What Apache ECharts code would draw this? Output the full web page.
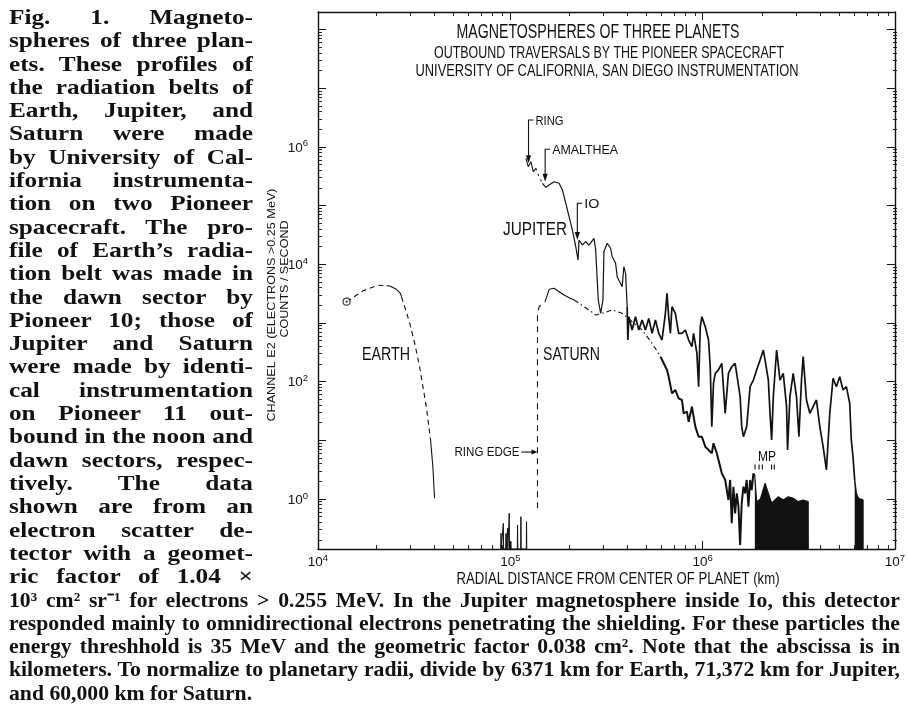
<!DOCTYPE html>
<html><head><meta charset="utf-8">
<script src="https://cdn.jsdelivr.net/npm/echarts@6/dist/echarts.min.js"></script>
<style>
html,body{margin:0;padding:0;background:#fff;}
#chart{position:absolute;left:0;top:0;width:908px;height:725px;}
.cap{position:absolute;font-family:"Liberation Serif","Times New Roman",serif;font-weight:bold;line-height:23.3px;color:#111;transform-origin:0 0;}
.cap div{text-align:justify;text-align-last:justify;white-space:nowrap;height:23.3px;}
.cap div.last{text-align-last:left;}
</style></head><body>
<div id="chart"></div>
<div id="capLeft" class="cap"></div>
<div id="capBottom" class="cap"></div>
<script>
// ---------- caption text ----------
const captionLeft = [
"Fig. 1. Magneto-","spheres of three plan-","ets. These profiles of","the radiation belts of",
"Earth, Jupiter, and","Saturn were made","by University of Cal-","ifornia instrumenta-",
"tion on two Pioneer","spacecraft. The pro-","file of Earth\u2019s radia-","tion belt was made in",
"the dawn sector by","Pioneer 10; those of","Jupiter and Saturn","were made by identi-",
"cal instrumentation","on Pioneer 11 out-","bound in the noon and","dawn sectors, respec-",
"tively. The data","shown are from an","electron scatter de-","tector with a geomet-",
"ric factor of 1.04 \u00d7"];
const captionBottom = [
"10\u00b3 cm\u00b2 sr\u207b\u00b9 for electrons > 0.255 MeV. In the Jupiter magnetosphere inside Io, this detector",
"responded mainly to omnidirectional electrons penetrating the shielding. For these particles the",
"energy threshhold is 35 MeV and the geometric factor 0.038 cm\u00b2. Note that the abscissa is in",
"kilometers. To normalize to planetary radii, divide by 6371 km for Earth, 71,372 km for Jupiter,",
"and 60,000 km for Saturn."];

// ---------- chart text ----------
const titleLines = ["MAGNETOSPHERES OF THREE PLANETS","OUTBOUND TRAVERSALS BY THE PIONEER SPACECRAFT","UNIVERSITY OF CALIFORNIA, SAN DIEGO INSTRUMENTATION"];
const xAxisTitle = "RADIAL DISTANCE FROM CENTER OF PLANET (km)";
const yAxisTitle1 = "CHANNEL E2 (ELECTRONS >0.25 MeV)";
const yAxisTitle2 = "COUNTS / SECOND";

// ---------- tick values ----------
const xMajorTicks = [1e4, 1e5, 1e6, 1e7];
const yMajorTicks = [1e0, 1e1, 1e2, 1e3, 1e4, 1e5, 1e6, 1e7, 1e8];
const minorMultipliers = [2, 3, 4, 5, 6, 7, 8, 9];

// ---------- data (x = km, y = counts/s) ----------
const earthDashA = [[14080,2297],[17170,3537],[20530,4374],[22690,4305]];
const earthSolidA = [[22690,4305],[23610,4256],[25570,3735],[26830,3192],[27150,2793]];
const earthDashB = [[27150,2793],[28240,1888],[29980,996],[31810,455],[33770,179],[35130,81.9],[36580,37.4],[37730,17.1],[38500,10.1]];
const earthSolidB = [[38500,10.1],[39570,3.55],[40380,1.03]];
const earthStart = [[14080,2297]];

const jupiterRing = [[120600,6.37e5],[124000,4.58e5],[128100,5.57e5],[131600,3.77e5],[135900,4.30e5]];
const jupiterGap = [[135900,4.30e5],[141000,3.1e5],[147000,2.39e5]];
const jupiterInner = [[147000,2.39e5],[153100,2.04e5],[159300,2.23e5],[169000,2.54e5],[179500,2.39e5],[186600,1.84e5],[194400,1.09e5],[202200,6.44e4],[210300,3.83e4],[219000,1.99e4],[225100,1.18e4],[227800,2.58e4],[236900,2.12e4],[246700,2.42e4],[256600,2.12e4],[272400,2.76e4],[278000,1.75e4],[286800,2455],[295100,1458],[303300,2455],[306900,1.63e4],[319200,2.27e4],[332500,1.87e4],[338900,1.34e4],[352900,1.04e4],[359700,6120],[381800,4140],[389600,9060],[397700,7000],[405400,1888]];
const jupiterOuter = [[405400,1888],[408700,511],[413700,1276],[430200,757],[448000,1276],[465900,757],[484800,1120],[504800,757],[525100,1197],[546200,665],[568700,1120],[591600,665],[615400,511],[640800,1458],[653100,3190],[666500,1276],[680100,665],[693300,1888],[722000,1458],[751000,665],[781000,665],[813600,757],[846400,511],[880400,393],[898400,665],[934500,303],[953500,81.9],[972900,861],[991800,1276],[1.033e6,861],[1.074e6,511],[1.096e6,179],[1.117e6,17.1],[1.140e6,93.5],[1.164e6,138],[1.210e6,158],[1.259e6,205],[1.311e6,28.8],[1.363e6,138],[1.418e6,179],[1.477e6,205],[1.568e6,55.3],[1.598e6,17.1],[1.631e6,11.5],[1.696e6,17.1],[1.767e6,81.9],[1.838e6,106],[1.911e6,158],[1.991e6,233],[2.071e6,345],[2.128e6,205],[2.198e6,106],[2.243e6,28.8],[2.287e6,10.1],[2.333e6,55.3],[2.427e6,345],[2.527e6,106],[2.628e6,138],[2.734e6,37.4],[2.767e6,6.84],[2.847e6,55.3],[2.961e6,138],[3.080e6,55.3],[3.170e6,11.5],[3.269e6,106],[3.336e6,266],[3.470e6,48.6],[3.614e6,28.8],[3.759e6,37.4],[3.910e6,48.6],[4.072e6,17.1],[4.236e6,7.78],[4.406e6,3.12],[4.588e6,28.8],[4.772e6,114],[4.964e6,81.9],[5.169e6,121],[5.377e6,71.9],[5.593e6,81.9],[5.825e6,42.7],[5.937e6,10.1],[6.058e6,5.26],[6.182e6,2.11]];
const jupiterEnd = [[6.182e6,2.11],[6.302e6,1.25],[6.40e6,1.09],[6.55e6,1.0],[6.70e6,0.96],[6.828e6,0.96],[6.83e6,0.1406]];

const saturnEdge = [[138500,0.695],[138500,1457],[141200,1888],[151800,2297]];
const saturnSolidA = [[151800,2297],[159300,3735],[169000,3882],[179500,3404],[190500,2985],[202200,2686],[214600,2455]];
const saturnDashDot = [[214600,2455],[227800,2157],[256600,1660],[278000,1364],[300800,1457],[338800,1660],[381800,1457],[430200,1047],[484800,757],[546200,449],[603800,266]];
const saturnSolidB = [[603800,266],[628100,205],[653100,158],[666500,121],[693300,63],[722000,71.9],[751000,51.7],[781000,48.6],[797300,28.8],[829300,30.7],[846400,20.7],[880400,37.4],[916800,17.1],[953500,11.5],[991800,11.5],[1.033e6,7.78],[1.074e6,6.84],[1.117e6,6.01],[1.140e6,8.89],[1.186e6,6.01],[1.259e6,2.74],[1.311e6,2.11],[1.363e6,0.96],[1.391e6,2.11],[1.418e6,0.385],[1.447e6,1.62],[1.477e6,0.57],[1.506e6,1.25],[1.537e6,0.74],[1.568e6,0.165],[1.598e6,0.845],[1.631e6,1.62],[1.664e6,1.25],[1.696e6,2.11],[1.732e6,0.74],[1.767e6,2.11],[1.801e6,1.42],[1.838e6,2.74],[1.870e6,2.4]];
const saturnMP = [[1.870e6,2.4],[1.91e6,0.9],[2.0e6,1.0],[2.113e6,1.85],[2.198e6,1.25],[2.287e6,0.845],[2.476e6,1.09],[2.628e6,0.96],[2.790e6,1.09],[2.961e6,1.03],[3.144e6,0.9],[3.336e6,0.96],[3.541e6,0.9],[3.545e6,0.1406]];
const saturnRingSpikes = [[89200,0.1406],[89500,0.26],[89800,0.1406],[91800,0.1406],[92000,0.385],[92300,0.1406],[94700,0.1406],[95000,0.26],[95300,0.1406],[96500,0.1406],[96800,0.317],[97100,0.1406],[98500,0.1406],[98800,0.57],[99100,0.1406],[100500,0.1406],[100800,0.187],[101100,0.1406],[108800,0.1406],[109100,0.36],[109400,0.1406],[113300,0.1406],[113600,0.5],[113900,0.1406],[121200,0.1406],[121500,0.41],[121800,0.1406]];

// annotation anchors in data space
const arrowNotes = [
  {label:"RING", x:124400, yTop:2.86e6, yTip:5.24e5, w:28},
  {label:"AMALTHEA", x:151800, yTop:9.06e5, yTip:2.54e5, w:66},
  {label:"IO", x:223200, yTop:1.09e5, yTip:2.58e4, w:15}
];
const ringEdgeNote = {label:"RING EDGE", x:138500, y:6.3};
const mpMarks = [1.875e6,1.966e6,2.046e6,2.284e6,2.36e6];
const mpMarkY = 3.5;

// ---------- helpers ----------
const mctx = document.createElement('canvas').getContext('2d');
function layoutCap(id, lines, left, top, width, fontSize){
  const el = document.getElementById(id);
  mctx.font = 'bold ' + fontSize + 'px "Liberation Serif", "Times New Roman", serif';
  let scale = Infinity;
  lines.forEach((t,i)=>{
    if (id==='capBottom' && i===lines.length-1) return;
    scale = Math.min(scale, width / mctx.measureText(t).width);
  });
  scale *= 0.995;
  el.style.left = left+'px'; el.style.top = top+'px';
  el.style.fontSize = fontSize+'px';
  el.style.width = (width/scale)+'px';
  el.style.transform = 'scaleX('+scale+')';
  lines.forEach((t,i)=>{const d=document.createElement('div');d.textContent=t;if(i===lines.length-1 && id==='capBottom')d.className='last';el.appendChild(d);});
}
layoutCap('capLeft', captionLeft, 9, 6, 244, 21);
layoutCap('capBottom', captionBottom, 9, 588.5, 891, 21);

function minorTicks(lo, hi){
  const out = [];
  for (let d = Math.floor(Math.log10(lo)); d <= Math.ceil(Math.log10(hi)); d++) {
    minorMultipliers.forEach(m => { const v = m * Math.pow(10, d); if (v > lo && v < hi) out.push(v); });
  }
  return out;
}

// ---------- chart ----------
const INK = '#111';
const FONT = '"Liberation Sans", Arial, sans-serif';
const YMIN = 0.1406, YMAX = 1.98e8, XMIN = 1e4, XMAX = 1e7;
const chart = echarts.init(document.getElementById('chart'), null, {renderer:'canvas', width:908, height:725});

function powLabel(lo, hi, evenOnly){
  return function(v){
    const e = Math.log10(v), r = Math.round(e);
    if (Math.abs(e-r) > 1e-6) return '';
    if (r < lo || r > hi) return '';
    if (evenOnly && r % 2 !== 0) return '';
    return '{b|10}{s|' + r + '}';
  };
}
const rich = {
  b:{fontSize:13.5, fontFamily:FONT, color:INK, verticalAlign:'bottom', lineHeight:16},
  s:{fontSize:9.5, fontFamily:FONT, color:INK, verticalAlign:'top', lineHeight:11, padding:[0,0,8,0]}
};
function axis(extra){
  return Object.assign({
    type:'log', logBase:10,
    axisLine:{show:true, lineStyle:{color:INK, width:1.4}},
    axisTick:{show:true, inside:true, length:8, lineStyle:{color:INK, width:1}},
    minorTick:{show:false}, splitLine:{show:false}, minorSplitLine:{show:false}
  }, extra);
}
function tickAxis(extra, values){
  return Object.assign({
    type:'log', logBase:10,
    axisLine:{show:false}, axisLabel:{show:false}, splitLine:{show:false},
    axisTick:{show:true, inside:true, length:4, customValues:values, lineStyle:{color:INK, width:0.9}}
  }, extra);
}
function line(data, width, type, extra){
  return Object.assign({type:'line', data, symbol:'none', silent:true, animation:false,
    xAxisIndex:0, yAxisIndex:0,
    lineStyle:{color:INK, width:width, type:type||'solid'}, z:3}, extra||{});
}
const xMinor = minorTicks(XMIN, XMAX), yMinor = minorTicks(YMIN, YMAX);
const yMajorIn = yMajorTicks.filter(v => v > YMIN && v < YMAX);

const option = {
  animation:false,
  backgroundColor:'#fff',
  grid:[
    {left:318, right:11, top:12, bottom:176, containLabel:false},
    {left:318, right:11, top:12, bottom:176, containLabel:false}
  ],
  xAxis:[
    axis({gridIndex:0, min:XMIN, max:XMAX, position:'bottom', axisTick:{show:true, inside:true, length:8, customValues:xMajorTicks, lineStyle:{color:INK, width:1}}, axisLabel:{formatter:powLabel(4,7,false), rich, margin:4}}),
    axis({gridIndex:0, min:XMIN, max:XMAX, position:'top', axisTick:{show:true, inside:true, length:8, customValues:xMajorTicks, lineStyle:{color:INK, width:1}}, axisLabel:{show:false}}),
    tickAxis({gridIndex:1, min:XMIN, max:XMAX, position:'bottom'}, xMinor),
    tickAxis({gridIndex:1, min:XMIN, max:XMAX, position:'top'}, xMinor)
  ],
  yAxis:[
    axis({gridIndex:0, min:YMIN, max:YMAX, position:'left', axisTick:{show:true, inside:true, length:8, customValues:yMajorIn, lineStyle:{color:INK, width:1}}, axisLabel:{formatter:powLabel(0,6,true), rich, margin:10}}),
    axis({gridIndex:0, min:YMIN, max:YMAX, position:'right', axisTick:{show:true, inside:true, length:8, customValues:yMajorIn, lineStyle:{color:INK, width:1}}, axisLabel:{show:false}}),
    tickAxis({gridIndex:1, min:YMIN, max:YMAX, position:'left'}, yMinor),
    tickAxis({gridIndex:1, min:YMIN, max:YMAX, position:'right'}, yMinor)
  ],
  series:[
    line(earthDashA, 1.1, [5,4]),
    line(earthSolidA, 1.1),
    line(earthDashB, 1.1, [5,4]),
    line(earthSolidB, 1.1),
    {type:'scatter', data:earthStart, symbol:'circle', symbolSize:7, silent:true, itemStyle:{color:'#fff', borderColor:INK, borderWidth:1.2}, z:4},
    {type:'scatter', data:earthStart, symbol:'circle', symbolSize:2.2, silent:true, itemStyle:{color:INK}, z:5},
    line(jupiterRing, 1.1),
    line(jupiterGap, 1.1, [2,4]),
    line(jupiterInner, 1.2),
    line(jupiterOuter, 1.7),
    line(jupiterEnd, 1.4, 'solid', {areaStyle:{color:INK, opacity:1, origin:'start'}}),
    line(saturnEdge, 1.1, [6,5]),
    line(saturnSolidA, 1.1),
    line(saturnDashDot, 1.1, [5,3,1.5,3]),
    line(saturnSolidB, 2.0),
    line(saturnMP, 1.2, 'solid', {areaStyle:{color:INK, opacity:1, origin:'start'}}),
    line(saturnRingSpikes, 1)
  ]
};
chart.setOption(option);

// ---------- text & annotations ----------
function txt(text, x, y, size, width, align, rotation){
  const font = size + 'px ' + FONT;
  mctx.font = font;
  const w = mctx.measureText(text).width;
  return {type:'text', x:x, y:y, rotation:rotation||0, scaleX: width ? width/w : 1, silent:true, z:10,
    style:{text:text, font:font, fill:INK, textAlign:align||'left', textVerticalAlign:'middle', align:align||'left', verticalAlign:'middle'}};
}
function px(x, y){ return chart.convertToPixel({xAxisIndex:0, yAxisIndex:0}, [x, y]); }

const g = [];
g.push(txt(titleLines[0], 598, 32, 21, 283, 'center'));
g.push(txt(titleLines[1], 609, 54, 16, 350, 'center'));
g.push(txt(titleLines[2], 607, 72, 16, 383, 'center'));
g.push(txt(xAxisTitle, 618, 580, 16, 323, 'center'));
g.push(txt(yAxisTitle1, 272, 305, 11.5, 233, 'center', Math.PI/2));
g.push(txt(yAxisTitle2, 285, 279, 11.5, 117, 'center', Math.PI/2));
g.push(txt("JUPITER", 503, 230, 18, 64, 'left'));
g.push(txt("SATURN", 543, 355, 18, 57, 'left'));
g.push(txt("EARTH", 362, 355, 18, 48, 'left'));
g.push(txt("MP", 758, 457, 14, 18, 'left'));

arrowNotes.forEach(n => {
  const top = px(n.x, n.yTop), tip = px(n.x, n.yTip);
  g.push({type:'polyline', silent:true, z:10, shape:{points:[[top[0]+5, top[1]],[top[0], top[1]],[tip[0], tip[1]-6]]}, style:{stroke:INK, lineWidth:1.1, fill:null}});
  g.push({type:'polygon', silent:true, z:10, shape:{points:[[tip[0]-2.6, tip[1]-8],[tip[0]+2.6, tip[1]-8],[tip[0], tip[1]]]}, style:{fill:INK}});
  g.push(txt(n.label, top[0]+7, top[1]+1, 13.5, n.w, 'left'));
});
const re = px(ringEdgeNote.x, ringEdgeNote.y);
g.push({type:'line', silent:true, z:10, shape:{x1:re[0]-16, y1:re[1], x2:re[0]-5, y2:re[1]}, style:{stroke:INK, lineWidth:1.1}});
g.push({type:'polygon', silent:true, z:10, shape:{points:[[re[0]-6, re[1]-2.5],[re[0]-6, re[1]+2.5],[re[0], re[1]]]}, style:{fill:INK}});
g.push(txt(ringEdgeNote.label, re[0]-18, re[1], 13.5, 65, 'right'));
mpMarks.forEach(m => {
  const p = px(m, mpMarkY);
  g.push({type:'line', silent:true, z:10, shape:{x1:p[0], y1:p[1]-2.5, x2:p[0], y2:p[1]+2.5}, style:{stroke:INK, lineWidth:1.1}});
});
chart.setOption({graphic:g});
</script>
</body></html>
